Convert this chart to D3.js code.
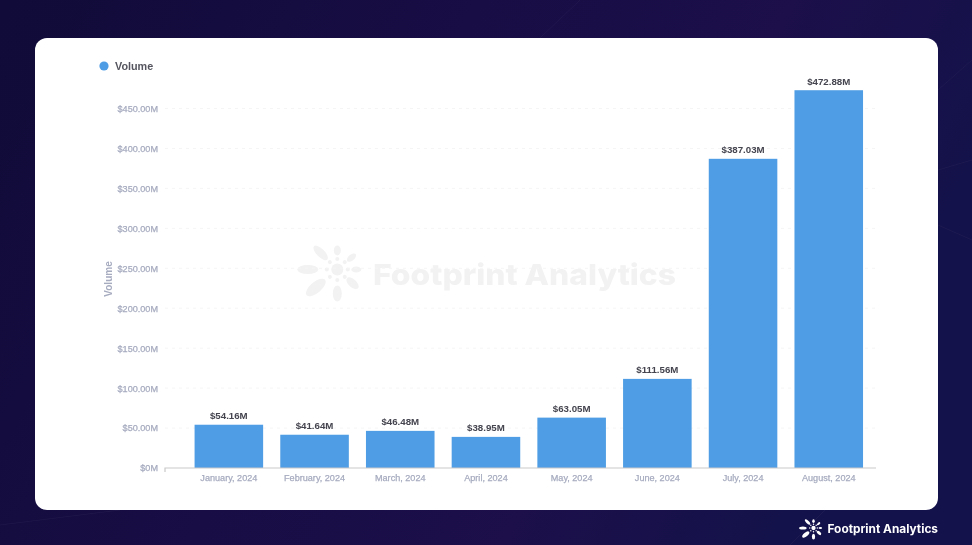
<!DOCTYPE html>
<html><head><meta charset="utf-8">
<script src="https://cdn.jsdelivr.net/npm/d3@7"></script>
<style>html,body{margin:0;padding:0;background:#170d45}svg{display:block}text{font-family:"Liberation Sans",Arial,sans-serif}</style>
</head><body><svg id="c" width="972" height="545"></svg>
<script>
const categories=["January, 2024","February, 2024","March, 2024","April, 2024","May, 2024","June, 2024","July, 2024","August, 2024"];
const volume=[54.16,41.64,46.48,38.95,63.05,111.56,387.03,472.88];
const valueLabels=["$54.16M","$41.64M","$46.48M","$38.95M","$63.05M","$111.56M","$387.03M","$472.88M"];
const yTicks=[0,50,100,150,200,250,300,350,400,450];
const seriesName="Volume";
const brand="Footprint Analytics";
// logo petals: angle, inner radius, outer radius, width
const petals=[[180,19,40,9],[-135,14,33,8],[-90,14,24,7],[-40,13,24,6],[0,14,24,6],[42,13,28,8],[90,16,32,9],[140,16,40,11]];
const dots=[-135,-90,-45,0,45,90,135,180];

const svg=d3.select("#c");
const defs=svg.append("defs");
const g=defs.append("linearGradient").attr("id","bg").attr("x1",0).attr("x2",1).attr("y1",0).attr("y2",0.3);
[["0%","#100b38"],["45%","#180d45"],["75%","#1c0f4a"],["100%","#14124a"]].forEach(d=>g.append("stop").attr("offset",d[0]).attr("stop-color",d[1]));
defs.append("filter").attr("id","soft").append("feGaussianBlur").attr("stdDeviation",0.35);
svg.append("rect").attr("width",972).attr("height",545).attr("fill","url(#bg)");
// faint background streaks
const streak=d3.line();
[[[540,38],[580,0]],[[938,170],[972,160]],[[938,225],[972,240]],[[0,525],[120,510]],[[790,545],[825,510]],[[938,90],[972,60]]].forEach(p=>
  svg.append("path").attr("d",streak(p)).attr("stroke","#ffffff").attr("stroke-opacity",.035).attr("fill","none"));
svg.append("rect").attr("x",35).attr("y",38).attr("width",903).attr("height",472).attr("rx",12).attr("fill","#fff");

const root=svg.append("g").attr("filter","url(#soft)");
function logo(parent,cx,cy,k,fill){
  const l=parent.append("g").attr("transform",`translate(${cx},${cy}) scale(${k})`).attr("fill",fill);
  l.append("circle").attr("r",6);
  l.selectAll("ellipse.p").data(petals).join("ellipse").attr("class","p")
    .attr("cx",d=>(d[1]+d[2])/2).attr("rx",d=>(d[2]-d[1])/2).attr("ry",d=>d[3]/2)
    .attr("transform",d=>`rotate(${d[0]})`);
  l.selectAll("circle.d").data(dots).join("circle").attr("class","d")
    .attr("cx",10.5).attr("r",2).attr("transform",d=>`rotate(${d})`);
}
// watermark
logo(root,337.3,269.5,1,"#f2f2f2");
root.append("text").attr("x",373).attr("y",285).attr("fill","#f2f2f2").attr("font-size",28.5).attr("font-weight",800).style("font-family","Inter,sans-serif").attr("textLength",303).attr("lengthAdjust","spacingAndGlyphs").text(brand);

const y=d3.scaleLinear().domain([0,450]).range([468,108.5]);
const x=d3.scaleBand().domain(categories).range([186,871.6]).paddingInner(0.2).paddingOuter(0.1);

// grid
root.append("g").selectAll("line").data(yTicks.slice(1)).join("line")
  .attr("x1",165).attr("x2",876).attr("y1",d=>y(d)).attr("y2",d=>y(d))
  .attr("stroke","#f5f5f5").attr("stroke-dasharray","3 4");

function styleTicks(sel){
  sel.selectAll("text").attr("fill","#a6abbf").attr("font-size",9.1)
    .attr("stroke","#a6abbf").attr("stroke-width",0.25);
}
// y axis
const ya=root.append("g").attr("transform","translate(158,0)")
  .call(d3.axisLeft(y).tickValues(yTicks).tickSize(0).tickPadding(0).tickFormat(d=>d===0?"$0M":`$${d.toFixed(2)}M`));
ya.select(".domain").remove();
styleTicks(ya);

// bars
root.append("g").selectAll("rect").data(volume).join("rect")
  .attr("x",(d,i)=>x(categories[i])).attr("width",x.bandwidth())
  .attr("y",d=>y(d)).attr("height",d=>y(0)-y(d)).attr("fill","#4f9de4");

// x axis
const xa=root.append("g").attr("transform","translate(0,468)").call(d3.axisBottom(x).tickSize(0).tickPadding(7));
xa.select(".domain").remove();
styleTicks(xa);
root.append("path").attr("d",d3.line()([[165,472],[165,468],[876,468]])).attr("fill","none").attr("stroke","#c9c9c9").attr("stroke-width",1.2);

// value labels
root.append("g").selectAll("text").data(volume).join("text")
  .attr("x",(d,i)=>x(categories[i])+x.bandwidth()/2).attr("y",d=>y(d)-5.5)
  .attr("text-anchor","middle").attr("fill","#44444f").attr("font-size",9.7).attr("font-weight",700)
  .text((d,i)=>valueLabels[i]);

// axis title
root.append("text").attr("transform","translate(112,279) rotate(-90)").attr("text-anchor","middle")
  .attr("fill","#a6abbf").attr("font-size",10).attr("font-weight",700).text(seriesName);

// legend
root.append("circle").attr("cx",104).attr("cy",66).attr("r",4.6).attr("fill","#4f9de4");
root.append("text").attr("x",115).attr("y",70).attr("fill","#55555f").attr("font-size",10.8).attr("font-weight",700).text(seriesName);

// footer brand
logo(root,813.5,528,0.36,"#ffffff");
root.append("text").attr("x",827.5).attr("y",533).attr("fill","#ffffff").attr("font-size",11.5).attr("font-weight",700).style("font-family","Inter,sans-serif").attr("textLength",110.5).attr("lengthAdjust","spacingAndGlyphs").text(brand);
</script></body></html>
